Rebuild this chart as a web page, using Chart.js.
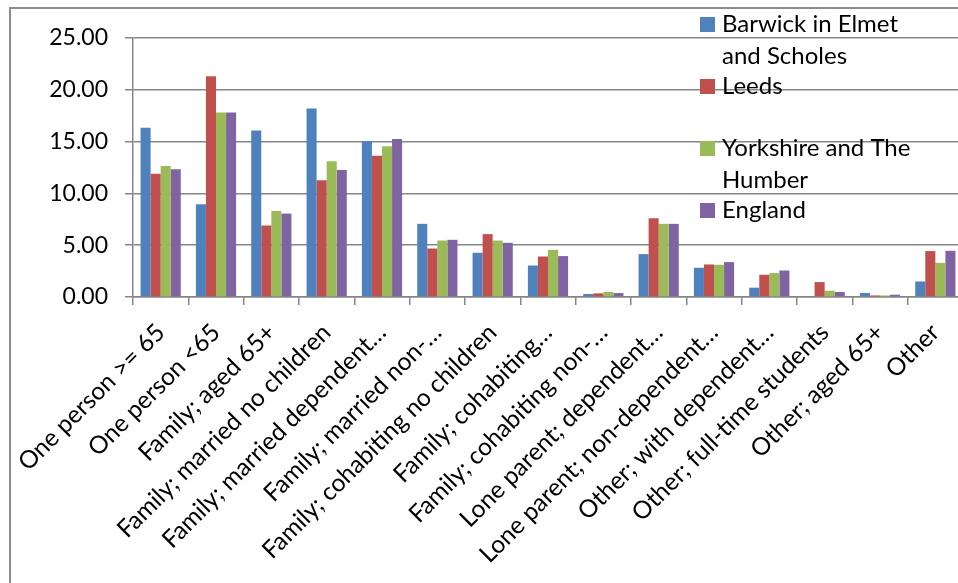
<!DOCTYPE html>
<html>
<head>
<meta charset="utf-8">
<title>Household composition</title>
<script src="https://cdn.jsdelivr.net/npm/chart.js@4.4.0/dist/chart.umd.min.js"></script>
<style>
    html, body { margin: 0; padding: 0; background: #fff; overflow: hidden; }
    #frame {
        position: absolute; left: 9px; top: 7px; width: 1000px; height: 600px;
        border-left: 2px solid #8c8c8c; border-top: 2px solid #8c8c8c;
    }
    #chart { position: absolute; left: 0; top: 0; }
</style>
</head>
<body>
<div id="frame"></div>
<canvas id="chart" width="975" height="583"></canvas>
<script>
const categories = [
    'One person >= 65',
    'One person <65',
    'Family; aged 65+',
    'Family; married no children',
    'Family; married dependent…',
    'Family; married non-…',
    'Family; cohabiting no children',
    'Family; cohabiting…',
    'Family; cohabiting non-…',
    'Lone parent; dependent…',
    'Lone parent; non-dependent…',
    'Other; with dependent…',
    'Other; full-time students',
    'Other; aged 65+',
    'Other'
];

const seriesNames = ['Barwick in Elmet and Scholes', 'Leeds', 'Yorkshire and The Humber', 'England'];
const legendLines = [['Barwick in Elmet', 'and Scholes'], ['Leeds'], ['Yorkshire and The', 'Humber'], ['England']];

const barwick   = [16.33, 8.95, 16.08, 18.20, 15.05, 7.06, 4.27, 3.04, 0.29, 4.14, 2.82, 0.90, 0.00, 0.39, 1.50];
const leeds     = [11.90, 21.30, 6.90, 11.27, 13.63, 4.68, 6.07, 3.91, 0.35, 7.60, 3.14, 2.15, 1.44, 0.15, 4.43];
const yorkshire = [12.64, 17.80, 8.31, 13.10, 14.54, 5.45, 5.45, 4.55, 0.48, 7.06, 3.11, 2.31, 0.61, 0.15, 3.30];
const england   = [12.32, 17.80, 8.05, 12.26, 15.24, 5.52, 5.23, 3.95, 0.38, 7.06, 3.37, 2.56, 0.48, 0.22, 4.46];

const yTicks = [0, 5, 10, 15, 20, 25];

const colours = ['#4F81BD', '#C0504D', '#9BBB59', '#8064A2'];
const gridColour = '#868686';
const fontFamily = 'Lato';

// legend sits over the top right of the plot, two text lines per entry
const sideLegend = {
    id: 'sideLegend',
    afterDraw(chart) {
        const c = chart.ctx;
        c.save();
        c.font = '24px ' + fontFamily;
        c.textBaseline = 'alphabetic';
        chart.data.datasets.forEach((ds, i) => {
            const top = 17 + i * 62;
            c.fillStyle = ds.backgroundColor;
            c.fillRect(700, top, 15, 15);
            c.fillStyle = '#000';
            legendLines[i].forEach((line, j) => c.fillText(line, 722, top + 15 + j * 32));
        });
        c.restore();
    }
};

function drawChart() {
    const ctx = document.getElementById('chart').getContext('2d');
    new Chart(ctx, {
        type: 'bar',
        data: {
            labels: categories,
            datasets: [barwick, leeds, yorkshire, england].map((values, i) => ({
                label: seriesNames[i],
                data: values,
                backgroundColor: colours[i],
                borderWidth: 0,
                categoryPercentage: 0.727,
                barPercentage: 1
            }))
        },
        options: {
            responsive: false,
            animation: false,
            layout: { padding: { top: 38, right: 12, left: 0, bottom: 0 } },
            plugins: {
                legend: { display: false },
                tooltip: { enabled: false }
            },
            scales: {
                x: {
                    grid: {
                        offset: true,
                        drawOnChartArea: false,
                        drawTicks: true,
                        tickLength: 8,
                        color: gridColour,
                        lineWidth: 1.5
                    },
                    border: { color: gridColour, width: 1.5 },
                    ticks: {
                        autoSkip: false,
                        minRotation: 45,
                        maxRotation: 45,
                        padding: 13,
                        color: '#000',
                        font: { family: fontFamily, size: 24.5 }
                    },
                    afterFit(scale) {
                        scale.height = 286;
                        scale.paddingLeft = 0;
                        scale.paddingRight = 0;
                    }
                },
                y: {
                    min: yTicks[0],
                    max: yTicks[yTicks.length - 1],
                    afterBuildTicks(scale) {
                        scale.ticks = yTicks.map(v => ({ value: v }));
                    },
                    ticks: {
                        callback: v => v.toFixed(2),
                        padding: 17,
                        color: '#000',
                        font: { family: fontFamily, size: 23 }
                    },
                    grid: { color: gridColour, lineWidth: 1.5, tickLength: 8 },
                    border: { color: gridColour, width: 1.5 },
                    afterFit(scale) {
                        scale.width = 133;
                    }
                }
            }
        },
        plugins: [sideLegend]
    });
}

document.fonts.load('24px ' + fontFamily).then(drawChart, drawChart);
</script>
</body>
</html>
